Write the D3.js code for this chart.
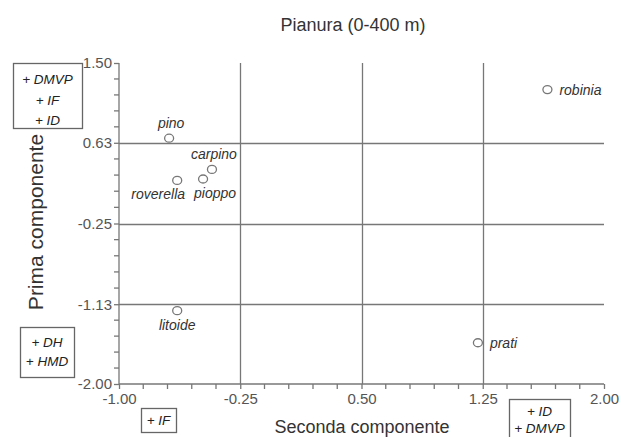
<!DOCTYPE html>
<html>
<head>
<meta charset="utf-8">
<script src="https://cdn.jsdelivr.net/npm/d3@7"></script>
<style>
  body { margin: 0; background: #fff; }
  svg { display: block; font-family: "Liberation Sans", Arial, sans-serif; }
</style>
</head>
<body>
<svg width="621" height="437"></svg>
<script>
// species and their scores on the two components
const names = ["pino", "carpino", "roverella", "pioppo", "robinia", "litoide", "prati"];
const xVals = [-0.69, -0.425, -0.64, -0.48, 1.65, -0.64, 1.22];
const yVals = [0.68, 0.34, 0.22, 0.235, 1.21, -1.20, -1.55];
const labelSide = ["top", "top", "bottom-left", "bottom", "right", "below", "right"];

const xTicks = [-1.00, -0.25, 0.50, 1.25, 2.00];
const yTicks = [1.50, 0.63, -0.25, -1.13, -2.00];

const title = "Pianura (0-400 m)";
const xTitle = "Seconda componente";
const yTitle = "Prima componente";

// explanatory boxes at axis ends
const boxes = [
    {lines: ["+ DMVP", "+ IF", "+ ID"], x0: 13, y0: 63, x1: 82, y1: 128, top: 84, step: 20.5},
    {lines: ["+ DH", "+ HMD"], x0: 20, y0: 327, x1: 74, y1: 377, top: 347, step: 19},
    {lines: ["+ IF"], x0: 141, y0: 408, x1: 176, y1: 432, top: 425, step: 0},
    {lines: ["+ ID", "+ DMVP"], x0: 509, y0: 399, x1: 570, y1: 445, top: 416, step: 17}
];

const svg = d3.select("svg");
const gridCol = "#777";

const x = d3.scaleLinear().domain([-1, 2]).range([119, 604]);
const y = d3.scaleLinear().domain([-2, 1.5]).range([384, 63]);

// grid lines at interior major ticks
const grid = svg.append("g").attr("stroke", gridCol).attr("stroke-width", 1.3);
grid.selectAll("line.v")
    .data(xTicks.slice(1, -1))
    .join("line")
    .attr("x1", d => Math.round(x(d)) + 0.5).attr("x2", d => Math.round(x(d)) + 0.5)
    .attr("y1", y(1.5)).attr("y2", y(-2));
grid.selectAll("line.h")
    .data(yTicks.slice(1, -1))
    .join("line")
    .attr("y1", d => Math.round(y(d)) + 0.5).attr("y2", d => Math.round(y(d)) + 0.5)
    .attr("x1", x(-1)).attr("x2", x(2));

// minor ticks: 5 intervals between majors
const xMinor = [];
for (let i = 0; i < xTicks.length - 1; i++)
    for (let k = 1; k < 5; k++) xMinor.push(xTicks[i] + (xTicks[i + 1] - xTicks[i]) * k / 5);
const yMinor = [];
for (let i = 0; i < yTicks.length - 1; i++)
    for (let k = 1; k < 5; k++) yMinor.push(yTicks[i] + (yTicks[i + 1] - yTicks[i]) * k / 5);

const xAxis = svg.append("g")
    .attr("transform", `translate(0,${y(-2)})`)
    .call(d3.axisBottom(x).tickValues(xTicks).tickFormat(d3.format(".2f")).tickSize(5).tickPadding(4));
xAxis.append("g")
    .selectAll("line")
    .data(xMinor)
    .join("line")
    .attr("x1", d => x(d)).attr("x2", d => x(d))
    .attr("y1", 0).attr("y2", 5);

const yAxis = svg.append("g")
    .attr("transform", `translate(${x(-1)},0)`)
    .call(d3.axisLeft(y).tickValues(yTicks).tickFormat(d3.format(".2f")).tickSize(5).tickPadding(2));
yAxis.append("g")
    .selectAll("line")
    .data(yMinor)
    .join("line")
    .attr("y1", d => y(d)).attr("y2", d => y(d))
    .attr("x1", 0).attr("x2", -5);

[xAxis, yAxis].forEach(a => {
    a.attr("font-size", null).attr("font-family", null);
    a.select(".domain").attr("stroke", gridCol).attr("stroke-width", 1.3);
    a.selectAll("line").attr("stroke", gridCol).attr("stroke-width", 1.3);
    a.selectAll("text")
        .attr("fill", "#555")
        .style("font-size", "15px");
});
xAxis.select(".domain").attr("d", `M${x(-1)},0H${x(2)}`);
yAxis.select(".domain").attr("d", `M0,${y(1.5)}V${y(-2)}`);
// plain hyphen for negatives, like the original
svg.selectAll(".tick text").text(function () { return d3.select(this).text().replace("\u2212", "-"); });

// points
const pts = names.map((n, i) => ({name: n, x: xVals[i], y: yVals[i], side: labelSide[i]}));

svg.append("g")
    .selectAll("ellipse")
    .data(pts)
    .join("ellipse")
    .attr("cx", d => x(d.x))
    .attr("cy", d => y(d.y))
    .attr("rx", 4.5).attr("ry", 4)
    .attr("fill", "#fff")
    .attr("stroke", "#777")
    .attr("stroke-width", 1.3);

const labOff = {
    "top": {dx: 2, dy: -10, anchor: "middle"},
    "below": {dx: 0, dy: 19, anchor: "middle"},
    "bottom": {dx: 12, dy: 19, anchor: "middle"},
    "bottom-left": {dx: -19, dy: 19, anchor: "middle"},
    "right": {dx: 12, dy: 5, anchor: "start"}
};

svg.append("g")
    .selectAll("text")
    .data(pts)
    .join("text")
    .attr("x", d => x(d.x) + labOff[d.side].dx)
    .attr("y", d => y(d.y) + labOff[d.side].dy)
    .attr("text-anchor", d => labOff[d.side].anchor)
    .attr("fill", "#333")
    .style("font-size", "14px")
    .style("font-style", "italic")
    .text(d => d.name);

// titles
svg.append("text")
    .attr("x", 353).attr("y", 31)
    .attr("text-anchor", "middle")
    .attr("fill", "#333")
    .style("font-size", "18px")
    .text(title);

svg.append("text")
    .attr("x", 362).attr("y", 433)
    .attr("text-anchor", "middle")
    .attr("fill", "#333")
    .style("font-size", "18px")
    .text(xTitle);

svg.append("text")
    .attr("transform", "translate(43,222) rotate(-90)")
    .attr("text-anchor", "middle")
    .attr("fill", "#333")
    .style("font-size", "21px")
    .text(yTitle);

// boxes
const bx = svg.append("g")
    .selectAll("g")
    .data(boxes)
    .join("g");
bx.append("rect")
    .attr("x", d => d.x0 + 0.5).attr("y", d => d.y0 + 0.5)
    .attr("width", d => d.x1 - d.x0).attr("height", d => d.y1 - d.y0)
    .attr("fill", "#fff")
    .attr("stroke", "#666")
    .attr("stroke-width", 1.3);
bx.each(function (d) {
    d3.select(this).selectAll("text")
        .data(d.lines)
        .join("text")
        .attr("x", (d.x0 + d.x1) / 2)
        .attr("y", (t, i) => d.top + i * d.step)
        .attr("text-anchor", "middle")
        .attr("fill", "#222")
        .style("font-size", "13.5px")
        .style("font-style", "italic")
        .text(t => t);
});
</script>
</body>
</html>
